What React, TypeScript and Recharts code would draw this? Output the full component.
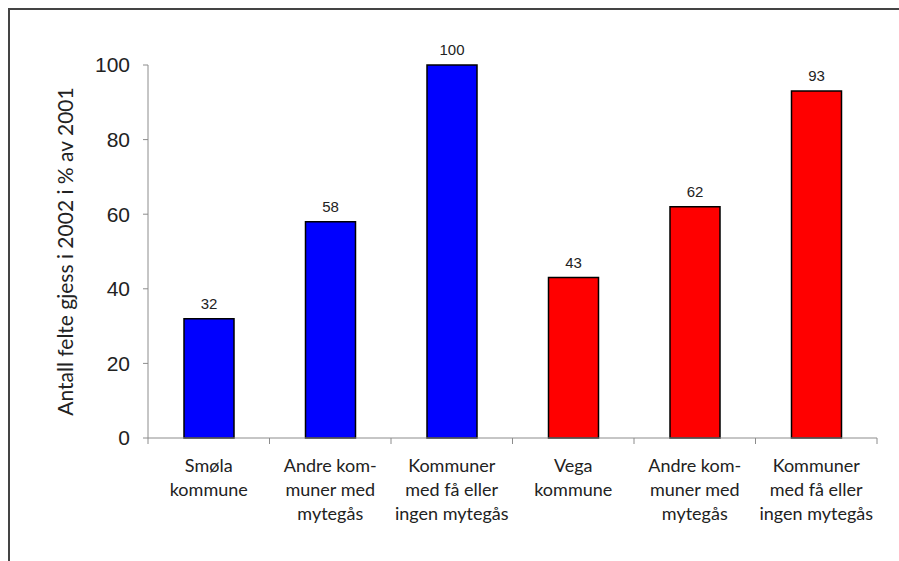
import React from "react";
import { Bar, BarChart, Cell, LabelList, XAxis, YAxis } from "recharts";

const categories: string[][] = [
  ["Smøla", "kommune"],
  ["Andre kom-", "muner med", "mytegås"],
  ["Kommuner", "med få eller", "ingen mytegås"],
  ["Vega", "kommune"],
  ["Andre kom-", "muner med", "mytegås"],
  ["Kommuner", "med få eller", "ingen mytegås"],
];
const values = [32, 58, 100, 43, 62, 93];
const colors = ["#0000ff", "#0000ff", "#0000ff", "#ff0000", "#ff0000", "#ff0000"];
const yTicks = [0, 20, 40, 60, 80, 100];
const yTitle = "Antall felte gjess i 2002 i % av 2001";

const data = values.map((v, i) => ({ key: `c${i}`, value: v }));

// Excel-style: tick marks sit on category boundaries, not centres
function CatTick(props: any) {
  const { x, y, index, width, visibleTicksCount } = props;
  const lines = categories[index] ?? [];
  const band = width / (visibleTicksCount || categories.length);
  const axisY = y - 8;
  return (
    <g>
      <line x1={x - band / 2} x2={x - band / 2} y1={axisY} y2={axisY + 6} stroke="#8c8c8c" />
      {index === categories.length - 1 && (
        <line x1={x + band / 2} x2={x + band / 2} y1={axisY} y2={axisY + 6} stroke="#8c8c8c" />
      )}
      <text
        x={x}
        y={y}
        textAnchor="middle"
        fill="#222"
        fontFamily="Lato, 'Open Sans', sans-serif"
        fontSize={18}
      >
        {lines.map((l, i) => (
          <tspan key={i} x={x} dy={i === 0 ? 26 : 24}>
            {l}
          </tspan>
        ))}
      </text>
    </g>
  );
}

function YTitle(props: any) {
  const vb = props.viewBox ?? { x: 0, y: 0, width: 0, height: 0 };
  const cx = vb.x - 24;
  const cy = vb.y + vb.height / 2;
  return (
    <text
      x={cx}
      y={cy}
      transform={`rotate(-90 ${cx} ${cy})`}
      textAnchor="middle"
      dominantBaseline="central"
      fill="#222"
      fontFamily="Lato, 'Open Sans', sans-serif"
      fontSize={21}
    >
      {yTitle}
    </text>
  );
}

export default function App() {
  return (
    <div style={{ position: "fixed", inset: 0, overflow: "hidden", background: "#fff" }}>
      <div
        style={{
          position: "absolute",
          left: 8,
          top: 8,
          width: 1000,
          height: 1000,
          border: "2px solid #444",
        }}
      >
        <BarChart
          width={881}
          height={543}
          data={data}
          margin={{ top: 55, right: 14, left: 78, bottom: 25 }}
          barSize={50}
        >
          <XAxis
            dataKey="key"
            height={90}
            axisLine={{ stroke: "#8c8c8c" }}
            tickLine={false}
            tick={<CatTick />}
            interval={0}
          />
          <YAxis
            domain={[0, 100]}
            ticks={yTicks}
            width={60}
            axisLine={{ stroke: "#8c8c8c" }}
            tickLine={{ stroke: "#8c8c8c" }}
            tickSize={5}
            tickMargin={13}
            tick={{
              fill: "#222",
              fontSize: 21,
              fontFamily: "'Liberation Sans', Arial, sans-serif",
            }}
            label={<YTitle />}
          />
          <Bar dataKey="value" stroke="#000" strokeWidth={1.5} isAnimationActive={false}>
            {data.map((d, i) => (
              <Cell key={d.key} fill={colors[i]} />
            ))}
            <LabelList
              dataKey="value"
              position="top"
              offset={10}
              fill="#222"
              fontSize={15}
              fontFamily="'Liberation Sans', Arial, sans-serif"
            />
          </Bar>
        </BarChart>
      </div>
    </div>
  );
}
